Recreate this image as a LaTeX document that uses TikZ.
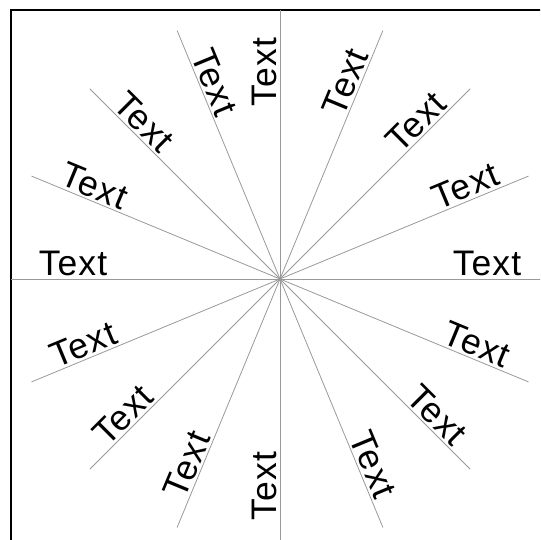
\documentclass[tikz,border=0pt]{standalone}
\usepackage{fontspec}
\setmainfont{Liberation Sans}[LetterSpace=3]
\begin{document}
\begin{tikzpicture}[x=1pt,y=1pt,
  ray/.style={draw=gray!80, line width=0.8pt},
  lbl/.style={font=\fontsize{35.5}{42}\selectfont, anchor=south, inner sep=2.5pt},
  frame/.style={draw=black, line width=2pt}]
\useasboundingbox (0,0) rectangle (540,540);
\clip (0,0) rectangle (540,540);
\coordinate (c) at (280,261);
\draw[frame] (11,-9) rectangle (549,530);
\foreach \i in {0,...,15} {
  \pgfmathsetmacro\a{22.5*\i}
  \pgfmathsetmacro\r{ifthenelse(\a<=90,\a,ifthenelse(\a<=270,\a-180,\a-360))}
  \coordinate (e\i) at ([shift={(\a:269)}]c);
  \draw[ray] (c) -- (e\i);
  \node[lbl, rotate=\r] (t\i) at ([shift={(\a:207)}]c) {Text};
}
\end{tikzpicture}
\end{document}
